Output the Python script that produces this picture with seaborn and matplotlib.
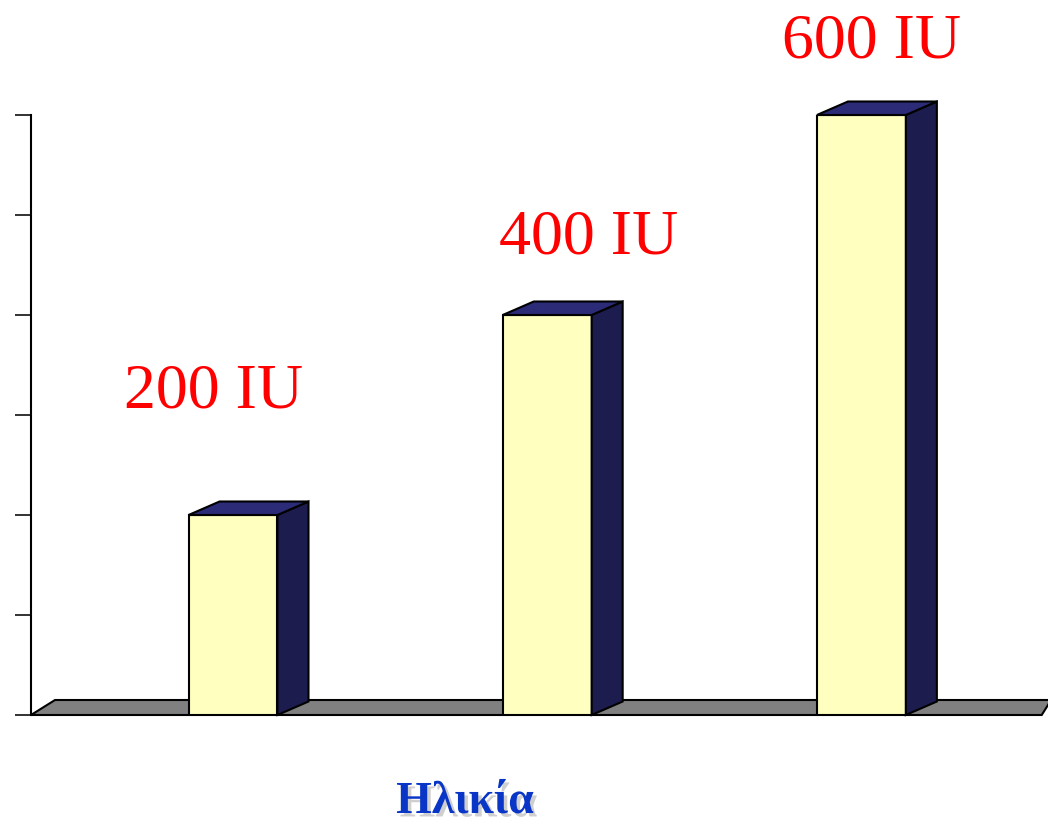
import matplotlib
matplotlib.use("Agg")
import matplotlib.pyplot as plt
import matplotlib.patheffects as pe
from matplotlib.patches import Polygon
import seaborn as sns
import pandas as pd

# Recommended daily vitamin D intake by age group
age_groups = ["0-50", "51-70", ">70"]
intake_iu = [200, 400, 600]
value_labels = ["200 IU", "400 IU", "600 IU"]
# label anchor: (category offset, baseline value)
label_x = [-0.063, 1.133, 2.033]
label_y = [308, 462, 658]

df = pd.DataFrame({"group": age_groups, "iu": intake_iu})

sns.set_theme(style="white")
plt.rcParams["font.family"] = ["Liberation Serif", "DejaVu Serif"]

W, H = 1048, 824
fig = plt.figure(figsize=(W / 100, H / 100), dpi=100)
ax = fig.add_axes([31 / W, (H - 715) / H, (W - 31) / W, 600 / H])

FRONT = "#FFFFC0"
TOP = "#2B2B78"
SIDE = "#1C1C4E"

sns.barplot(data=df, x="group", y="iu", color=FRONT, width=0.283,
            saturation=1, edgecolor="black", linewidth=1.5, ax=ax, zorder=3)

xmin, xmax = -0.643, 2.594
ax.set_xlim(xmin, xmax)
ax.set_ylim(0, 600)

# depth offsets for the 3-D look (x in category units, y in data units)
dx, dy = 31 / 314, 13.5

# floor slab
fdx, fdy = 24 / 314, 15
floor = Polygon([(xmin, 0), (xmin + fdx, fdy), (xmax + 0.01, fdy), (xmax - 0.02, 0)],
                closed=True, facecolor="#808080", edgecolor="black", lw=1.5,
                clip_on=False, zorder=2)
ax.add_patch(floor)

for bar in ax.patches:
    if bar is floor:
        continue
    x0 = bar.get_x()
    w = bar.get_width()
    h = bar.get_height()
    x1 = x0 + w
    top = Polygon([(x0, h), (x0 + dx, h + dy), (x1 + dx, h + dy), (x1, h)],
                  closed=True, facecolor=TOP, edgecolor="black", lw=1.5,
                  clip_on=False, zorder=3)
    side = Polygon([(x1, 0), (x1 + dx, dy), (x1 + dx, h + dy), (x1, h)],
                   closed=True, facecolor=SIDE, edgecolor="black", lw=1.5,
                   clip_on=False, zorder=3)
    ax.add_patch(side)
    ax.add_patch(top)

for txt, lx, ly in zip(value_labels, label_x, label_y):
    ax.text(lx, ly, txt, color="#FF0000", fontsize=46, ha="center",
            va="baseline", clip_on=False, zorder=5)

ax.set_yticks(range(0, 601, 100))
ax.set_yticklabels([])
ax.set_xticks([])
ax.tick_params(axis="y", which="major", direction="out", length=11.5,
               width=1.3, color="#222222", left=True)
for s in ["top", "right", "bottom"]:
    ax.spines[s].set_visible(False)
ax.spines["left"].set_color("black")
ax.spines["left"].set_linewidth(1.5)
ax.set_xlabel("")
ax.set_ylabel("")

fig.text(465 / W, (H - 813) / H, "Ηλικία", color="#0A36C8", fontsize=33,
         fontweight="bold", ha="center", va="baseline",
         path_effects=[pe.withSimplePatchShadow(offset=(2.5, -2.5),
                                                shadow_rgbFace="#888888",
                                                alpha=0.4)])

fig.savefig("out.png", dpi=100, facecolor="white")
